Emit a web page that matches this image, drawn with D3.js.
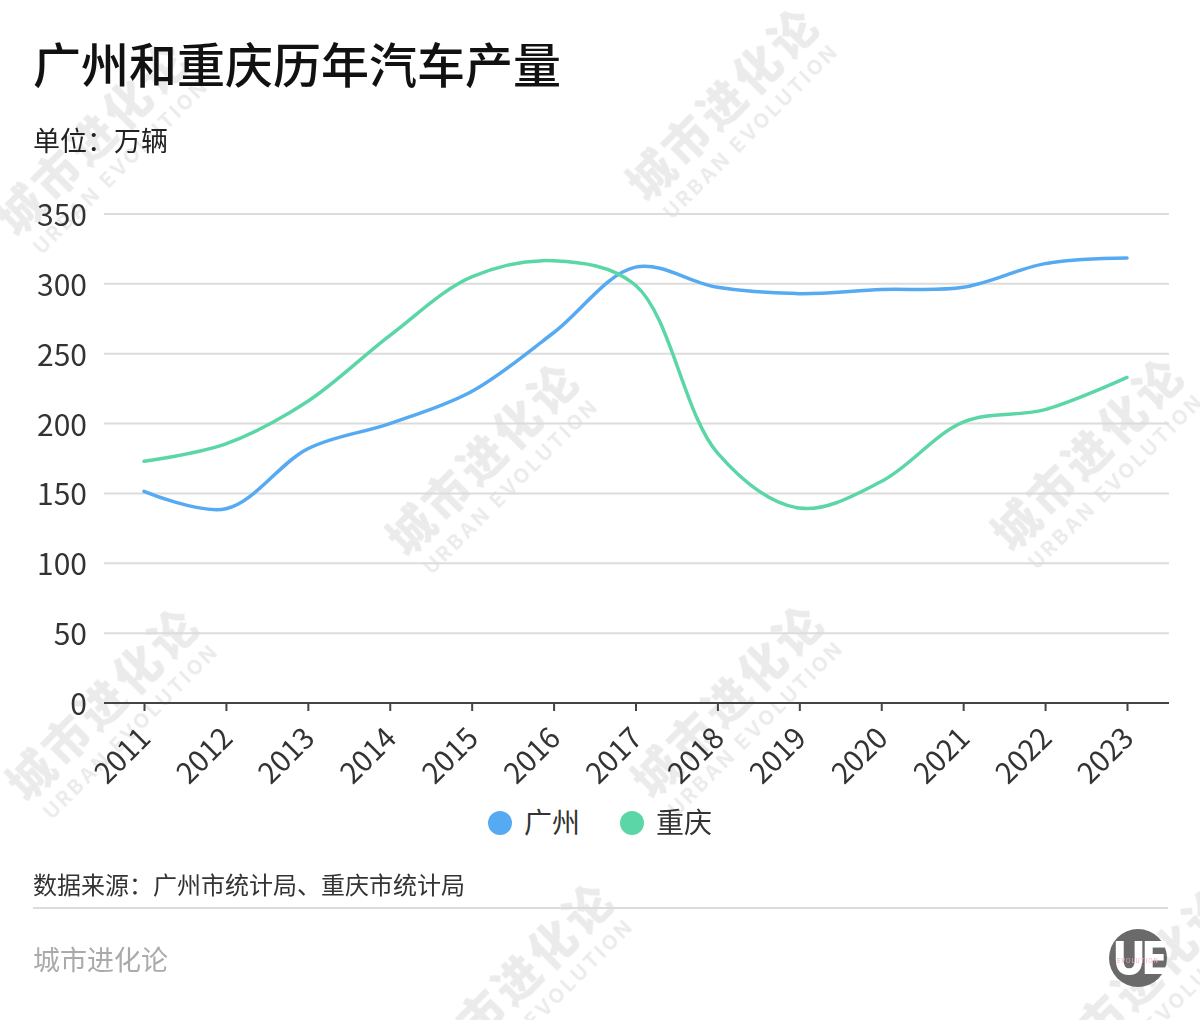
<!doctype html>
<html lang="zh">
<head>
<meta charset="utf-8">
<style>
  body { margin: 0; background: #fff; }
  text { font-family: "Noto Sans CJK SC", "Noto Sans", sans-serif; }
</style>
</head>
<body>
<script src="https://d3js.org/d3.v7.min.js"></script>
<div id="chart"></div>
<script>
  // data (万辆)
  var years = ["2011","2012","2013","2014","2015","2016","2017","2018","2019","2020","2021","2022","2023"];
  var guangzhou = [151.5, 139, 182, 200, 223, 265, 312, 297.5, 293, 296, 297.5, 314.5, 318.5];
  var chongqing = [173, 185.5, 216, 263, 305, 316.5, 299, 179, 139.5, 158.5, 201, 210, 233];
  var yTicks = [0, 50, 100, 150, 200, 250, 300, 350];
  var seriesNames = ["广州", "重庆"];
  var seriesColors = ["#56aaf1", "#5bd6a6"];

  var width = 1200, height = 1020;
  var svg = d3.select("#chart").append("svg")
      .attr("width", width)
      .attr("height", height);

  // faint watermarks
  var marks = [[105,150],[735,115],[495,470],[1100,465],[115,715],[740,712],[530,990],[1150,995]];
  var wm = svg.append("g").attr("fill", "#000").attr("opacity", 0.08);
  marks.forEach(function(m) {
    var g = wm.append("g").attr("transform", "translate(" + m[0] + "," + m[1] + ") rotate(-45)");
    g.append("text").attr("text-anchor", "middle").attr("y", 0)
      .style("font-size", "46px").style("font-weight", 900).style("letter-spacing", "4px")
      .text("城市进化论");
    g.append("text").attr("text-anchor", "middle").attr("y", 30)
      .style("font-size", "20px").style("font-weight", 700).style("letter-spacing", "3px")
      .style("font-family", "Inter, sans-serif")
      .text("URBAN EVOLUTION");
  });

  // title
  svg.append("text").attr("x", 33).attr("y", 83)
     .style("font-size", "48px").style("font-weight", 500).attr("fill", "#111")
     .text("广州和重庆历年汽车产量");
  svg.append("text").attr("x", 33).attr("y", 151)
     .style("font-size", "27px").attr("fill", "#222")
     .text("单位：万辆");

  var x = d3.scalePoint().domain(years).range([144, 1127]);
  var y = d3.scaleLinear().domain([0, 350]).range([703, 214]);

  // grid
  svg.append("g").selectAll("line")
     .data(yTicks.filter(function(d){ return d > 0; }))
     .enter().append("line")
     .attr("x1", 104).attr("x2", 1169)
     .attr("y1", function(d){ return y(d); })
     .attr("y2", function(d){ return y(d); })
     .attr("stroke", "#dcdcdc").attr("stroke-width", 2);

  // y labels
  svg.append("g").selectAll("text")
     .data(yTicks).enter().append("text")
     .attr("x", 87)
     .attr("y", function(d){ return y(d) + 12; })
     .attr("text-anchor", "end")
     .style("font-size", "30px").attr("fill", "#333")
     .text(function(d){ return d; });

  // x axis
  var xAxis = svg.append("g")
     .attr("transform", "translate(0," + y(0) + ")")
     .call(d3.axisBottom(x).tickSize(8).tickSizeOuter(0));
  xAxis.select(".domain").remove();
  xAxis.append("line").attr("x1", 104).attr("x2", 1169)
     .attr("stroke", "#444").attr("stroke-width", 2);
  xAxis.selectAll(".tick line").attr("stroke", "#444").attr("stroke-width", 2);
  xAxis.selectAll(".tick text")
     .attr("fill", "#333")
     .style("font-size", "29px")
     .style("font-family", "'Noto Sans CJK SC', sans-serif")
     .attr("text-anchor", "end")
     .attr("dy", null)
     .attr("transform", "translate(8,37) rotate(-45)")
     .attr("y", 0).attr("x", 0);

  // lines
  var line = d3.line()
     .x(function(d, i){ return x(years[i]); })
     .y(function(d){ return y(d); })
     .curve(d3.curveCatmullRom.alpha(0.5));

  [guangzhou, chongqing].forEach(function(s, i) {
    svg.append("path")
       .datum(s)
       .attr("d", line)
       .attr("fill", "none")
       .attr("stroke", seriesColors[i])
       .attr("stroke-width", 3.5)
       .attr("stroke-linecap", "round");
  });

  // legend
  var legend = svg.append("g").attr("transform", "translate(500,823)");
  seriesNames.forEach(function(n, i) {
    var g = legend.append("g").attr("transform", "translate(" + (i * 132) + ",0)");
    g.append("circle").attr("r", 12).attr("fill", seriesColors[i]);
    g.append("text").attr("x", 24).attr("y", 10)
     .style("font-size", "28px").attr("fill", "#333").text(n);
  });

  // source and footer
  svg.append("text").attr("x", 33).attr("y", 894)
     .style("font-size", "24px").attr("fill", "#333")
     .text("数据来源：广州市统计局、重庆市统计局");
  svg.append("line").attr("x1", 33).attr("x2", 1168)
     .attr("y1", 908).attr("y2", 908)
     .attr("stroke", "#dcdcdc").attr("stroke-width", 2);
  svg.append("text").attr("x", 33).attr("y", 970)
     .style("font-size", "27px").attr("fill", "#aaa")
     .text("城市进化论");

  // logo
  var logo = svg.append("g").attr("transform", "translate(1138,958)");
  logo.append("circle").attr("r", 29).attr("fill", "#6a6a6a");
  logo.append("text").attr("text-anchor", "middle").attr("y", 16)
      .style("font-size", "44px").style("font-weight", 900).attr("fill", "#fff")
      .style("letter-spacing", "-5px")
      .text("UE");
  logo.append("text").attr("text-anchor", "middle").attr("y", 5)
      .style("font-size", "6px").style("letter-spacing", "1px").attr("fill", "#f2a7c8")
      .text("EVOLUTION");
</script>
</body>
</html>
